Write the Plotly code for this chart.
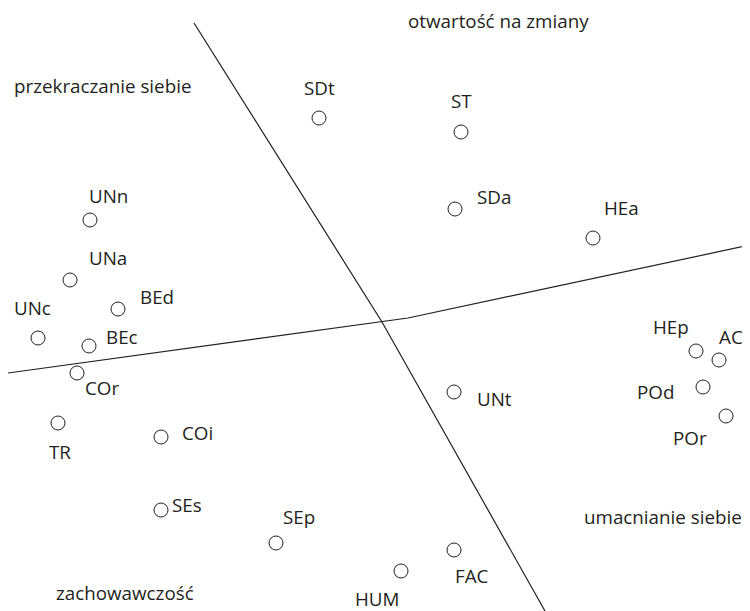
import plotly.graph_objects as go

# MDS-like coordinates (dimension 1, dimension 2)
labels = ["SDt", "ST", "SDa", "HEa", "UNn", "UNa", "BEd", "UNc", "BEc", "COr",
          "TR", "COi", "SEs", "SEp", "HUM", "FAC", "UNt", "HEp", "AC", "POd", "POr"]
dim1 = [-0.61, 0.81, 0.75, 2.13, -2.90, -3.10, -2.62, -3.42, -2.91, -3.03,
        -3.22, -2.19, -2.19, -1.04, 0.21, 0.74, 0.74, 3.16, 3.39, 3.23, 3.46]
dim2 = [2.04, 1.90, 1.13, 0.84, 1.02, 0.42, 0.13, -0.16, -0.24, -0.51,
        -1.01, -1.15, -1.88, -2.21, -2.49, -2.28, -0.70, -0.29, -0.38, -0.65, -0.94]

# label offsets in pixels (dx right, dy down)
label_dx = [0, 0, 39, 28, 18, 38, 39, -6, 33, 25, 2, 36, 26, 23, -24, 18, 40, -25, 12, -48, -36]
label_dy = [-30, -31, -12, -30, -24, -22, -12, -30, -9, 15, 29, -4, -5, -26, 28, 26, 7, -24, -23, 5, 22]

# dividing lines (polylines)
line_a_x = [-3.72, 0.28, 3.70]
line_a_y = [-0.51, 0.04, 0.77]
line_b_x = [-1.86, 0.02, 1.65]
line_b_y = [2.99, 0.00, -2.89]

# region labels
region_text = ["przekraczanie siebie", "otwartość na zmiany", "umacnianie siebie", "zachowawczość"]
region_x = [-2.78, 1.18, 2.83, -2.55]
region_y = [2.36, 3.01, -1.95, -2.71]

FONT = "Open Sans"
INK = "#231f20"
FS = 18.8

fig = go.Figure()
fig.add_trace(go.Scatter(x=line_a_x, y=line_a_y, mode="lines",
                         line=dict(color=INK, width=1.2), hoverinfo="skip"))
fig.add_trace(go.Scatter(x=line_b_x, y=line_b_y, mode="lines",
                         line=dict(color=INK, width=1.2), hoverinfo="skip"))
fig.add_trace(go.Scatter(x=dim1, y=dim2, mode="markers", text=labels,
                         marker=dict(symbol="circle-open", size=14, color=INK,
                                     line=dict(width=1, color=INK))))

for t, x, y, dx, dy in zip(labels, dim1, dim2, label_dx, label_dy):
    fig.add_annotation(x=x, y=y, text=t, showarrow=False, xshift=dx, yshift=-dy,
                       font=dict(family=FONT, size=FS, color=INK))

for t, x, y in zip(region_text, region_x, region_y):
    fig.add_annotation(x=x, y=y, text=t, showarrow=False,
                       font=dict(family=FONT, size=FS, color=INK))

# the page body has an 8px margin, so the figure is sized and ranged to fill the window from there
fig.update_layout(
    width=742, height=603,
    margin=dict(l=0, r=0, t=0, b=0),
    paper_bgcolor="white", plot_bgcolor="white",
    showlegend=False,
    xaxis=dict(range=[-3.72, 3.70], visible=False, fixedrange=True),
    yaxis=dict(range=[-2.89, 3.14], visible=False, fixedrange=True),
)

fig.write_html("out.html", config={"displayModeBar": False})
